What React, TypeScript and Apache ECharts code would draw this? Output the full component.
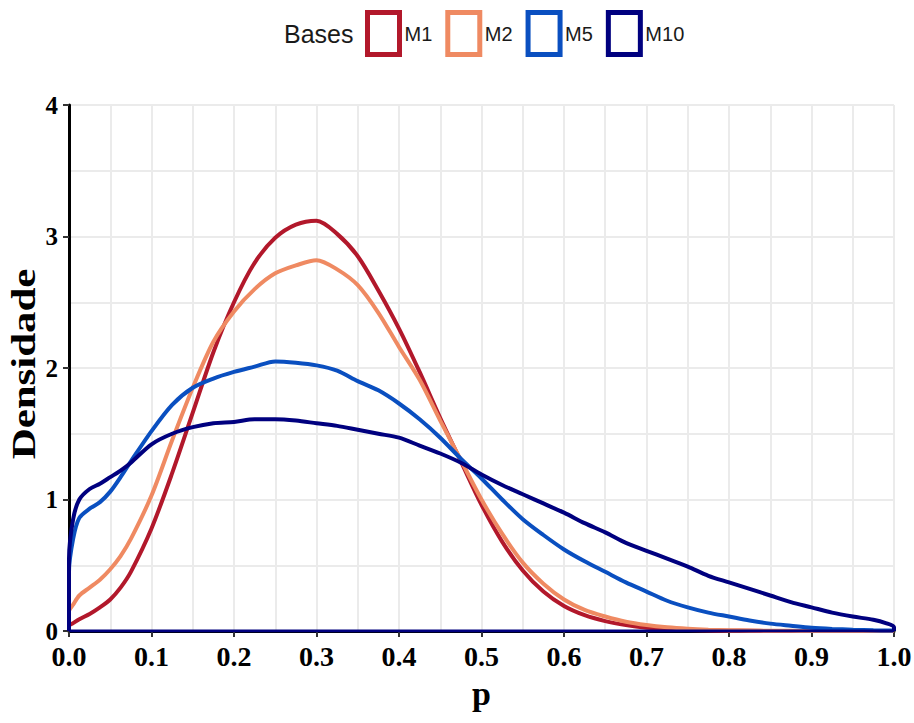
import React, { useEffect, useRef } from "react";
import * as echarts from "echarts";

// Shared evaluation grid for the density estimates
const xs = [
  0, 0.005, 0.0125, 0.025, 0.0375, 0.05, 0.0625,
  0.075, 0.1, 0.125, 0.15, 0.175, 0.2, 0.225, 0.25, 0.275,
  0.3, 0.325, 0.35, 0.375, 0.4, 0.425, 0.45, 0.475, 0.5, 0.525,
  0.55, 0.575, 0.6, 0.625, 0.65, 0.675, 0.7, 0.725, 0.75, 0.775,
  0.8, 0.825, 0.85, 0.875, 0.9, 0.925, 0.95, 0.975,
  0.99, 1.0,
];

const densM1 = [
  0.04, 0.06, 0.09, 0.13, 0.18, 0.24, 0.33,
  0.45, 0.78, 1.2, 1.66, 2.12, 2.5, 2.8, 2.99, 3.09,
  3.12, 3.02, 2.85, 2.59, 2.3, 1.97, 1.62, 1.29, 0.96, 0.68,
  0.46, 0.3, 0.19, 0.12, 0.075, 0.045, 0.025, 0.014, 0.008, 0.004,
  0.002, 0.001, 0, 0, 0, 0, 0, 0,
  0, 0,
];

const densM2 = [
  0.15, 0.2, 0.27, 0.33, 0.39, 0.47, 0.57,
  0.7, 1.03, 1.45, 1.85, 2.2, 2.43, 2.6, 2.72, 2.78,
  2.82, 2.75, 2.63, 2.42, 2.16, 1.91, 1.6, 1.3, 1.0, 0.74,
  0.52, 0.36, 0.24, 0.16, 0.11, 0.07, 0.045, 0.028, 0.017, 0.01,
  0.006, 0.004, 0.002, 0.001, 0, 0, 0, 0,
  0, 0,
];

const densM5 = [
  0.45, 0.7, 0.86, 0.93, 0.98, 1.06, 1.17,
  1.29, 1.52, 1.72, 1.85, 1.92, 1.97, 2.01, 2.05, 2.04,
  2.02, 1.98, 1.9, 1.83, 1.73, 1.61, 1.47, 1.31, 1.16, 1.0,
  0.85, 0.73, 0.62, 0.53, 0.45, 0.37, 0.3, 0.23, 0.18, 0.14,
  0.11, 0.08, 0.056, 0.04, 0.025, 0.016, 0.01, 0.005,
  0.004, 0.003,
];

const densM10 = [
  0.55, 0.85, 1.0, 1.08, 1.12, 1.17, 1.22,
  1.28, 1.42, 1.5, 1.55, 1.58, 1.59, 1.61, 1.61, 1.6,
  1.58, 1.56, 1.53, 1.5, 1.47, 1.41, 1.35, 1.28, 1.19, 1.11,
  1.04, 0.97, 0.9, 0.82, 0.75, 0.67, 0.61, 0.55, 0.49, 0.42,
  0.37, 0.32, 0.27, 0.22, 0.18, 0.14, 0.11, 0.085,
  0.06, 0.03,
];

const seriesNames = ["M1", "M2", "M5", "M10"];
const seriesValues = [densM1, densM2, densM5, densM10];
const seriesColors = ["#B2182B", "#EF8A62", "#0A4FC0", "#00007F"];

const legendTitle = "Bases";
const xTitle = "p";
const yTitle = "Densidade";

// Each outline starts and ends on the baseline, like a density polygon
function outline(values: number[]): number[][] {
  const first = xs[0];
  const last = xs[xs.length - 1];
  return [[first, 0], ...xs.map((x, i) => [x, values[i]]), [last, 0]];
}

const gridColor = "#EBEBEB";
const serif = "'Liberation Serif', 'Times New Roman', serif";
const sans = "'Liberation Sans', Arial, sans-serif";

export default function App() {
  const ref = useRef<HTMLDivElement>(null);

  useEffect(() => {
    if (!ref.current) return;
    const chart = echarts.init(ref.current, undefined, { renderer: "svg" });

    const lines = seriesNames.map((name, i) => ({
      name,
      type: "line",
      data: outline(seriesValues[i]),
      smooth: 0.3,
      showSymbol: false,
      symbol: "none",
      lineStyle: { color: seriesColors[i], width: 4 },
      itemStyle: { color: seriesColors[i] },
      z: 3 + i,
    }));

    // closing baseline of the outlines (the last one drawn sits on top)
    const baseline = {
      name: "",
      type: "line",
      data: [
        [xs[0], 0],
        [xs[xs.length - 1], 0],
      ],
      showSymbol: false,
      symbol: "none",
      silent: true,
      lineStyle: { color: seriesColors[3], width: 3 },
      z: 8,
    };

    chart.setOption({
      animation: false,
      backgroundColor: "#ffffff",
      title: {
        text: legendTitle,
        left: 284,
        top: 21,
        padding: 0,
        textStyle: {
          fontFamily: sans,
          fontSize: 25,
          fontWeight: "normal",
          color: "#1a1a1a",
        },
      },
      legend: {
        left: 365,
        top: 10,
        padding: 0,
        icon: "rect",
        itemWidth: 32,
        itemHeight: 42,
        itemGap: 13,
        selectedMode: false,
        textStyle: { fontFamily: sans, fontSize: 20, color: "#1a1a1a", padding: [4, 0, 0, 0] },
        data: seriesNames.map((name, i) => ({
          name,
          itemStyle: {
            color: "#ffffff",
            borderColor: seriesColors[i],
            borderWidth: 5,
          },
        })),
      },
      graphic: [
        {
          type: "text",
          x: 7,
          y: 364,
          rotation: Math.PI / 2,
          scaleX: 1.3,
          scaleY: 1,
          style: {
            text: yTitle,
            fontFamily: serif,
            fontWeight: "bold",
            fontSize: 33,
            fill: "#000",
            align: "center",
            verticalAlign: "top",
          },
        },
      ],
      grid: {
        left: 69,
        top: 105,
        width: 825,
        height: 526,
        containLabel: false,
        outerBoundsMode: "none",
      },
      xAxis: {
        type: "value",
        min: 0,
        max: 1,
        interval: 0.1,
        offset: 2,
        axisLine: { lineStyle: { color: "#000", width: 3 } },
        axisTick: { show: true, length: 6, lineStyle: { color: "#333", width: 2 } },
        axisLabel: {
          formatter: (v: number) => v.toFixed(1),
          fontFamily: serif,
          fontWeight: "bold",
          fontSize: 28,
          lineHeight: 26,
          color: "#000",
          margin: 10,
        },
        splitLine: { show: true, lineStyle: { color: gridColor, width: 2 } },
        minorTick: { show: false, splitNumber: 2 },
        minorSplitLine: { show: true, lineStyle: { color: gridColor, width: 2 } },
        name: xTitle,
        nameLocation: "middle",
        nameGap: 43,
        nameTextStyle: {
          fontFamily: serif,
          fontWeight: "bold",
          fontSize: 34,
          lineHeight: 34,
          color: "#000",
        },
      },
      yAxis: {
        type: "value",
        min: 0,
        max: 4,
        interval: 1,
        axisLine: { show: true, lineStyle: { color: "#000", width: 3 } },
        axisTick: { show: true, length: 6, lineStyle: { color: "#333", width: 2 } },
        axisLabel: {
          fontFamily: serif,
          fontWeight: "bold",
          fontSize: 25,
          lineHeight: 22,
          color: "#000",
          margin: 11,
        },
        splitLine: { show: true, lineStyle: { color: gridColor, width: 2 } },
        minorTick: { show: false, splitNumber: 2 },
        minorSplitLine: { show: true, lineStyle: { color: gridColor, width: 2 } },
      },
      series: [...lines, baseline],
    });

    return () => chart.dispose();
  }, []);

  return (
    <div
      ref={ref}
      style={{ position: "fixed", left: 0, top: 0, width: 914, height: 723, background: "#fff" }}
    />
  );
}
